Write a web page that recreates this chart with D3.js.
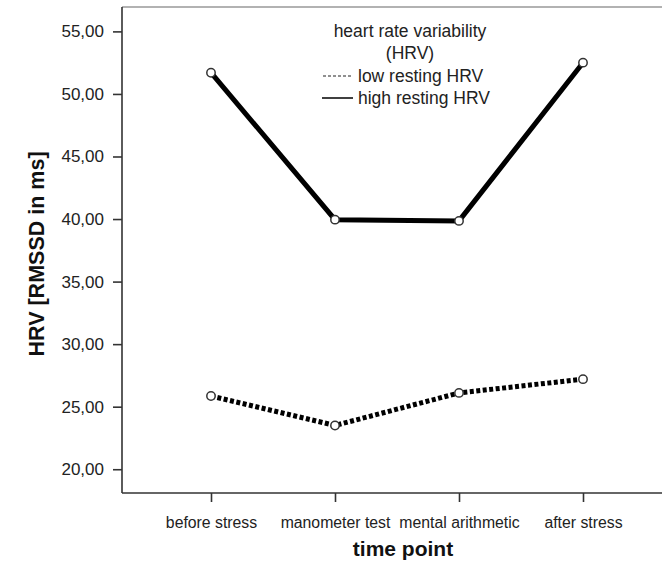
<!DOCTYPE html>
<html><head><meta charset="utf-8">
<script src="https://cdn.jsdelivr.net/npm/d3@7"></script>
<style>body{margin:0;background:#fff;} text{font-family:"Liberation Sans",Arial,sans-serif;}</style>
</head><body>
<svg id="chart" width="662" height="561"></svg>
<script>
const categories = ["before stress", "manometer test", "mental arithmetic", "after stress"];
const lowHRV = [25.85, 23.5, 26.1, 27.2];
const highHRV = [51.7, 39.95, 39.85, 52.5];
const yTicks = [20, 25, 30, 35, 40, 45, 50, 55];
const seriesNames = ["low resting HRV", "high resting HRV"];

const svg = d3.select("#chart");
const mLeft = 122, mTop = 7, mBottom = 493;

const x = d3.scalePoint().domain(categories).range([211, 583]);
const y = d3.scaleLinear().domain([18.1, 56.95]).range([mBottom, mTop]);

// top border
svg.append("line").attr("x1", mLeft).attr("x2", 662).attr("y1", mTop).attr("y2", mTop)
  .attr("stroke", "#999").attr("stroke-width", 1.5);

const fmt = d => d.toFixed(2).replace(".", ",");
const yAxis = svg.append("g").attr("transform", `translate(${mLeft},0)`)
  .call(d3.axisLeft(y).tickValues(yTicks).tickFormat(fmt).tickSize(9).tickPadding(9));
yAxis.select(".domain").attr("d", `M0,${mTop}V${mBottom}`);
const xAxis = svg.append("g").attr("transform", `translate(0,${mBottom})`)
  .call(d3.axisBottom(x).tickSize(9).tickPadding(15));
xAxis.select(".domain").attr("d", `M${mLeft},0H662`);
svg.selectAll(".domain, .tick line").attr("stroke", "#333").attr("stroke-width", 1.6);
yAxis.selectAll("text").attr("font-size", 17).attr("fill", "#222").attr("font-family", "Liberation Sans, Arial, sans-serif");
xAxis.selectAll("text").attr("font-size", 15.8).attr("fill", "#222").attr("font-family", "Liberation Sans, Arial, sans-serif");

svg.append("text").attr("transform", "translate(44,254) rotate(-90)").attr("text-anchor", "middle")
  .attr("font-size", 21.5).attr("font-weight", "bold").attr("fill", "#111").text("HRV [RMSSD in ms]");
svg.append("text").attr("x", 403).attr("y", 556).attr("text-anchor", "middle")
  .attr("font-size", 21).attr("font-weight", "bold").attr("fill", "#111").text("time point");

const line = d3.line().x((d, i) => x(categories[i])).y(d => y(d));
svg.append("path").datum(highHRV).attr("d", line).attr("fill", "none")
  .attr("stroke", "#000").attr("stroke-width", 5);
svg.append("path").datum(lowHRV).attr("d", line).attr("fill", "none")
  .attr("stroke", "#000").attr("stroke-width", 5).attr("stroke-dasharray", "4,2.5");

[highHRV, lowHRV].forEach(s => {
  svg.append("g").selectAll("circle").data(s).join("circle")
    .attr("cx", (d, i) => x(categories[i])).attr("cy", d => y(d)).attr("r", 4.2)
    .attr("fill", "#fff").attr("stroke", "#333").attr("stroke-width", 1.5);
});

// legend
const lg = svg.append("g");
lg.append("text").attr("x", 410).attr("y", 37).attr("text-anchor", "middle").attr("font-size", 17.5).attr("fill", "#222").text("heart rate variability");
lg.append("text").attr("x", 410).attr("y", 59).attr("text-anchor", "middle").attr("font-size", 17.5).attr("fill", "#222").text("(HRV)");
lg.append("line").attr("x1", 323).attr("x2", 353).attr("y1", 76).attr("y2", 76).attr("stroke", "#222").attr("stroke-width", 1.2).attr("stroke-dasharray", "3,2");
lg.append("text").attr("x", 358).attr("y", 82).attr("font-size", 17.5).attr("fill", "#222").text(seriesNames[0]);
lg.append("line").attr("x1", 322).attr("x2", 353).attr("y1", 98).attr("y2", 98).attr("stroke", "#111").attr("stroke-width", 1.6);
lg.append("text").attr("x", 358).attr("y", 104).attr("font-size", 17.5).attr("fill", "#222").text(seriesNames[1]);
</script>
</body></html>
